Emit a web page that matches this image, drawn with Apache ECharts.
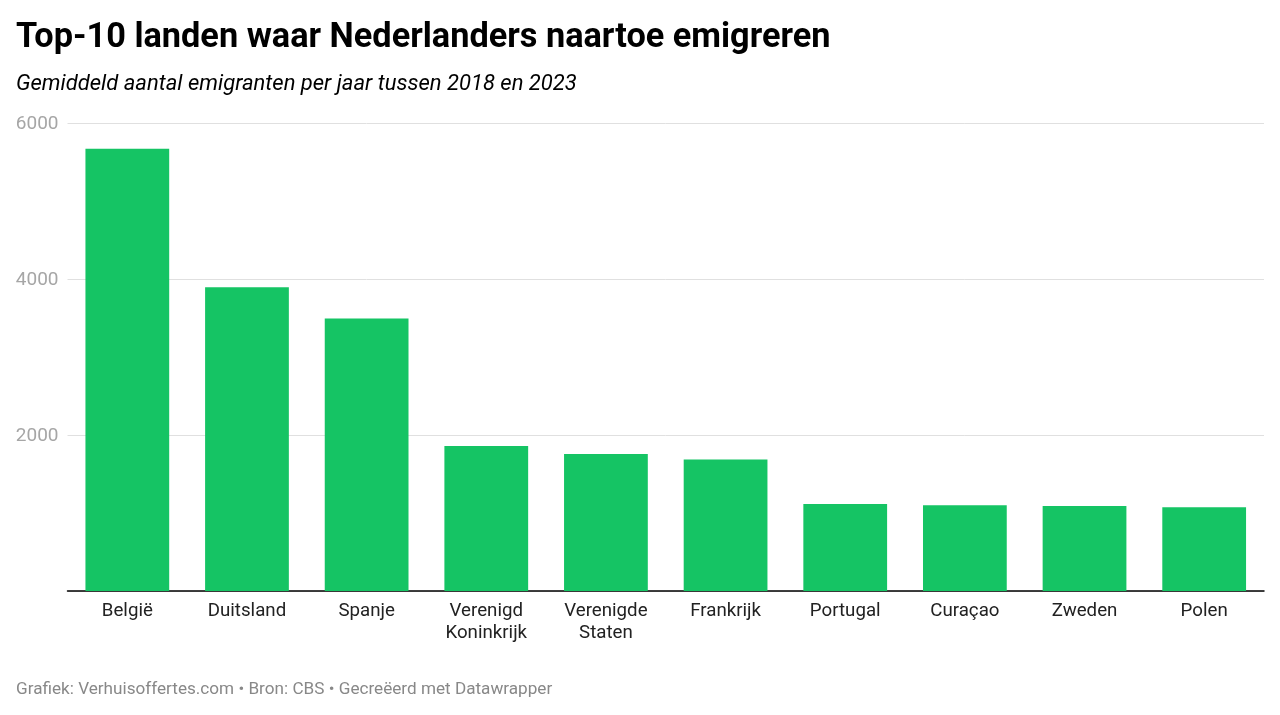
<!DOCTYPE html>
<html>
<head>
<meta charset="utf-8">
<style>
  html, body { margin: 0; padding: 0; background: #fff; }
  #chart { width: 1280px; height: 715px; }
</style>
<script src="https://cdn.jsdelivr.net/npm/echarts@6/dist/echarts.min.js"></script>
</head>
<body>
<div id="chart"></div>
<script>
const landen = ['België', 'Duitsland', 'Spanje', 'Verenigd\nKoninkrijk', 'Verenigde\nStaten', 'Frankrijk', 'Portugal', 'Curaçao', 'Zweden', 'Polen'];
const emigranten = [5670, 3895, 3495, 1860, 1755, 1685, 1115, 1100, 1090, 1075];
const yTicks = [2000, 4000, 6000];

const chart = echarts.init(document.getElementById('chart'));

chart.setOption({
  animation: false,
  textStyle: { fontFamily: 'Roboto' },
  title: [
    {
      text: 'Top-10 landen waar Nederlanders naartoe emigreren',
      left: 16, top: 21, padding: 0,
      textStyle: { fontSize: 34.3, fontWeight: 700, color: '#000', fontFamily: 'Roboto' }
    },
    {
      text: 'Gemiddeld aantal emigranten per jaar tussen 2018 en 2023',
      left: 16, top: 73.5, padding: 0,
      textStyle: { fontSize: 22, fontWeight: 400, fontStyle: 'italic', color: '#000', fontFamily: 'Roboto' }
    },
    {
      text: 'Grafiek: Verhuisoffertes.com • Bron: CBS • Gecreëerd met Datawrapper',
      left: 16, top: 681.5, padding: 0,
      textStyle: { fontSize: 17.15, fontWeight: 400, color: '#888', fontFamily: 'Roboto' }
    }
  ],
  grid: { left: 67.5, right: 16, top: 123, height: 468 },
  xAxis: {
    type: 'category',
    data: landen,
    axisLine: { lineStyle: { color: '#000', width: 1.5 } },
    axisTick: { show: false },
    axisLabel: { color: '#222', fontSize: 18.7, lineHeight: 22, margin: 9, interval: 0 }
  },
  yAxis: {
    type: 'value',
    min: 0,
    max: 6000,
    interval: 2000,
    axisLine: { show: false },
    axisTick: { show: false },
    splitLine: { lineStyle: { color: '#e0e0e0', width: 1 } },
    axisLabel: {
      color: '#a6a6a6',
      fontSize: 19,
      margin: 9,
      // top + small lineHeight nudges the number about 1px below the gridline
      verticalAlign: 'top',
      lineHeight: 2,
      formatter: v => yTicks.includes(v) ? String(v) : ''
    }
  },
  series: [{
    type: 'bar',
    data: emigranten,
    barWidth: '70%',
    itemStyle: { color: '#15c464' }
  }]
});
</script>
</body>
</html>
